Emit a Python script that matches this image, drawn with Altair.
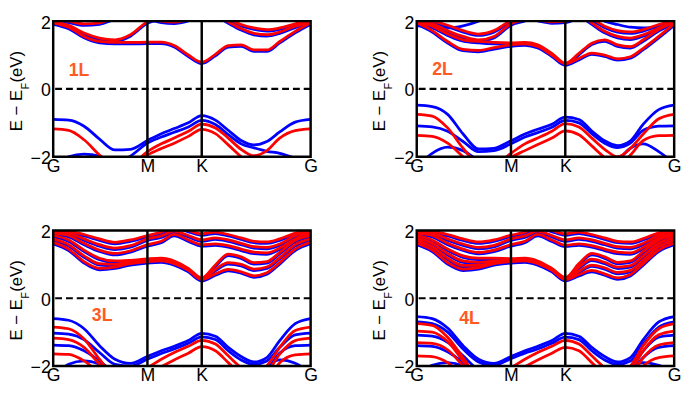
import json
import altair as alt
import pandas as pd

FONT = "Liberation Sans"

# path coordinate (fraction of G-M-K-G length)
K_GRID = [0.0, 0.06, 0.12, 0.18, 0.24, 0.30, 0.366, 0.42, 0.47, 0.525, 0.577,
          0.63, 0.68, 0.73, 0.78, 0.83, 0.88, 0.94, 1.0]
TICK_POS = [0.0, 0.366, 0.577, 1.0]
TICK_LABELS = ["G", "M", "K", "G"]
SYM_LINES = [0.366, 0.577]
Y_TICKS = [-2, 0, 2]
PANEL_NAMES = ["1L", "2L", "3L", "4L"]
LABEL_K = [0.10, 0.10, 0.19, 0.205]
LABEL_E = [0.52, 0.55, -0.52, -0.61]

# ---------------- 1L ----------------
L1_BLUE = [
    [-0.90, -0.92, -1.10, -1.48, -1.80, -1.78, -1.52, -1.32, -1.17, -1.00, -0.79, -0.92, -1.22, -1.52, -1.65, -1.55, -1.27, -0.98, -0.90],
    [-2.25, -2.00, -1.92, -1.98, -2.20, -1.98, -1.60, -1.42, -1.28, -1.12, -0.93, -1.05, -1.35, -1.62, -1.74, -1.84, -1.90, -2.05, -2.25],
]
L1_RED = [
    [-1.18, -1.22, -1.50, -1.95, -2.30, -2.25, -1.85, -1.62, -1.45, -1.25, -1.04, -1.15, -1.45, -1.78, -1.97, -1.82, -1.45, -1.23, -1.18],
    [-2.60, -2.60, -2.60, -2.60, -2.50, -2.30, -1.95, -1.76, -1.60, -1.40, -1.19, -1.32, -1.65, -2.00, -2.30, -2.60, -2.60, -2.60, -2.60],
]
L1_BOTH = [
    [1.95, 1.82, 1.55, 1.40, 1.37, 1.37, 1.38, 1.38, 1.28, 1.00, 0.79, 1.02, 1.28, 1.30, 1.15, 1.15, 1.40, 1.70, 1.95],
    [1.98, 1.88, 1.65, 1.50, 1.45, 1.60, 1.98, 2.10, 2.20, 2.30, 2.30, 2.20, 1.98, 1.78, 1.64, 1.60, 1.68, 1.85, 1.98],
    [2.05, 2.00, 1.92, 1.95, 2.10, 2.20, 2.10, 2.00, 1.97, 2.05, 2.20, 2.10, 2.05, 1.90, 1.80, 1.75, 1.80, 1.92, 2.02],
]

# ---------------- 2L ----------------
L2_BLUE = [
    [-0.48, -0.52, -0.75, -1.33, -1.77, -1.75, -1.53, -1.33, -1.19, -1.04, -0.83, -0.90, -1.24, -1.53, -1.67, -1.53, -1.04, -0.61, -0.48],
    [-1.09, -1.12, -1.25, -1.55, -1.85, -1.82, -1.62, -1.42, -1.29, -1.13, -0.93, -1.00, -1.32, -1.60, -1.73, -1.60, -1.22, -1.10, -1.09],
    [-2.30, -1.90, -1.72, -1.82, -2.10, -2.20, -2.05, -2.30, -2.40, -2.40, -2.40, -2.40, -2.40, -2.30, -2.10, -1.75, -1.62, -1.85, -2.20],
    [1.86, 1.85, 1.80, 1.86, 2.00, 2.20, 2.30, 2.30, 2.30, 2.30, 2.30, 2.30, 2.20, 2.00, 1.90, 1.82, 1.80, 1.82, 1.85],
]
L2_RED = [
    [-0.75, -0.80, -1.15, -1.75, -2.20, -2.25, -1.90, -1.62, -1.45, -1.25, -1.02, -1.12, -1.45, -1.78, -2.00, -1.75, -1.33, -0.88, -0.75],
    [-1.37, -1.40, -1.60, -2.00, -2.40, -2.40, -2.02, -1.82, -1.64, -1.45, -1.24, -1.35, -1.68, -2.02, -2.25, -1.95, -1.52, -1.38, -1.37],
]
L2_BOTH = [
    [1.95, 1.72, 1.40, 1.17, 1.14, 1.22, 1.30, 1.33, 1.25, 1.00, 0.74, 0.90, 1.06, 1.00, 0.89, 0.95, 1.20, 1.55, 1.92],
    [1.98, 1.85, 1.62, 1.45, 1.40, 1.37, 1.36, 1.37, 1.30, 1.05, 0.76, 1.05, 1.35, 1.45, 1.30, 1.25, 1.45, 1.75, 1.97],
    [2.02, 1.92, 1.72, 1.55, 1.45, 1.55, 1.92, 2.05, 2.20, 2.30, 2.30, 2.20, 1.95, 1.70, 1.55, 1.50, 1.60, 1.80, 1.98],
    [2.05, 2.00, 1.88, 1.72, 1.62, 1.72, 2.02, 2.15, 2.05, 1.98, 2.00, 2.10, 2.05, 1.85, 1.72, 1.68, 1.75, 1.90, 2.02],
]

# ---------------- 3L ----------------
L3_BLUE = [
    [-0.60, -0.65, -0.90, -1.40, -1.80, -1.92, -1.72, -1.55, -1.42, -1.25, -1.04, -1.12, -1.45, -1.72, -1.88, -1.75, -1.25, -0.75, -0.60],
    [-1.03, -1.06, -1.22, -1.60, -1.95, -2.00, -1.80, -1.63, -1.50, -1.33, -1.14, -1.22, -1.55, -1.82, -1.95, -1.85, -1.45, -1.08, -1.03],
    [-1.38, -1.40, -1.55, -1.85, -2.20, -2.30, -2.10, -2.30, -2.40, -2.40, -2.40, -2.40, -2.40, -2.40, -2.30, -2.10, -1.62, -1.40, -1.38],
    [-2.30, -1.95, -1.85, -1.95, -2.20, -2.30, -2.30, -2.40, -2.40, -2.40, -2.40, -2.40, -2.40, -2.40, -2.30, -2.00, -1.82, -1.92, -2.20],
]
L3_RED = [
    [-0.85, -0.90, -1.20, -1.80, -2.30, -2.30, -2.05, -1.80, -1.60, -1.42, -1.24, -1.35, -1.70, -2.05, -2.30, -2.00, -1.45, -0.95, -0.85],
    [-1.18, -1.22, -1.45, -1.95, -2.40, -2.40, -2.25, -2.02, -1.82, -1.62, -1.43, -1.55, -1.90, -2.25, -2.40, -2.20, -1.65, -1.25, -1.18],
    [-1.64, -1.66, -1.85, -2.20, -2.50, -2.50, -2.50, -2.50, -2.50, -2.50, -2.50, -2.50, -2.50, -2.50, -2.50, -2.40, -1.90, -1.67, -1.64],
]
L3_BOTH = [
    [1.65, 1.45, 1.08, 0.88, 0.92, 1.02, 1.08, 1.10, 1.02, 0.82, 0.55, 0.72, 0.85, 0.78, 0.66, 0.75, 1.05, 1.45, 1.65],
    [1.75, 1.58, 1.25, 1.02, 1.00, 1.08, 1.12, 1.14, 1.06, 0.85, 0.58, 0.85, 1.05, 1.00, 0.86, 0.92, 1.20, 1.58, 1.75],
    [1.85, 1.72, 1.42, 1.18, 1.10, 1.12, 1.16, 1.18, 1.10, 0.88, 0.60, 0.98, 1.30, 1.22, 1.05, 1.08, 1.35, 1.70, 1.85],
    [1.92, 1.85, 1.62, 1.42, 1.32, 1.40, 1.58, 1.68, 1.88, 1.72, 1.58, 1.60, 1.55, 1.45, 1.36, 1.34, 1.48, 1.75, 1.92],
    [1.98, 1.92, 1.75, 1.58, 1.48, 1.55, 1.75, 1.84, 1.98, 1.85, 1.72, 1.78, 1.72, 1.62, 1.52, 1.50, 1.60, 1.85, 1.98],
    [2.02, 1.98, 1.88, 1.75, 1.65, 1.72, 1.85, 1.95, 2.10, 2.00, 1.90, 1.95, 1.88, 1.78, 1.68, 1.66, 1.75, 1.92, 2.02],
]

# ---------------- 4L ----------------
L4_BLUE = [
    [-0.54, -0.60, -0.88, -1.40, -1.80, -1.92, -1.72, -1.55, -1.42, -1.25, -1.04, -1.12, -1.45, -1.72, -1.88, -1.75, -1.22, -0.70, -0.54],
    [-0.70, -0.75, -1.00, -1.50, -1.88, -1.98, -1.78, -1.62, -1.50, -1.33, -1.15, -1.22, -1.55, -1.82, -1.95, -1.85, -1.35, -0.85, -0.70],
    [-1.09, -1.12, -1.30, -1.70, -2.10, -2.20, -2.00, -2.30, -2.40, -2.40, -2.40, -2.40, -2.40, -2.40, -2.30, -2.10, -1.55, -1.15, -1.09],
    [-1.40, -1.42, -1.58, -1.90, -2.30, -2.40, -2.30, -2.40, -2.40, -2.40, -2.40, -2.40, -2.40, -2.40, -2.40, -2.20, -1.75, -1.45, -1.40],
    [-2.30, -1.98, -1.90, -2.00, -2.30, -2.40, -2.40, -2.40, -2.40, -2.40, -2.40, -2.40, -2.40, -2.40, -2.30, -2.05, -1.90, -1.98, -2.20],
]
L4_RED = [
    [-0.75, -0.80, -1.15, -1.75, -2.30, -2.30, -2.05, -1.80, -1.60, -1.42, -1.24, -1.35, -1.70, -2.05, -2.30, -2.00, -1.40, -0.90, -0.75],
    [-0.97, -1.00, -1.28, -1.85, -2.40, -2.40, -2.25, -2.02, -1.82, -1.62, -1.45, -1.55, -1.90, -2.25, -2.40, -2.15, -1.55, -1.08, -0.97],
    [-1.31, -1.33, -1.52, -2.00, -2.50, -2.50, -2.50, -2.50, -2.50, -2.50, -2.50, -2.50, -2.50, -2.50, -2.50, -2.30, -1.75, -1.38, -1.31],
    [-1.70, -1.72, -1.90, -2.30, -2.50, -2.50, -2.50, -2.50, -2.50, -2.50, -2.50, -2.50, -2.50, -2.50, -2.50, -2.50, -2.00, -1.75, -1.70],
]
L4_BOTH = [
    [1.62, 1.42, 1.05, 0.86, 0.90, 1.02, 1.08, 1.10, 1.02, 0.82, 0.55, 0.70, 0.82, 0.72, 0.60, 0.70, 1.02, 1.42, 1.62],
    [1.70, 1.52, 1.18, 0.97, 0.97, 1.06, 1.10, 1.12, 1.04, 0.84, 0.57, 0.80, 0.98, 0.90, 0.76, 0.82, 1.12, 1.52, 1.70],
    [1.78, 1.62, 1.32, 1.10, 1.06, 1.10, 1.13, 1.15, 1.07, 0.86, 0.59, 0.92, 1.15, 1.06, 0.92, 0.96, 1.25, 1.62, 1.78],
    [1.85, 1.72, 1.45, 1.25, 1.18, 1.18, 1.17, 1.18, 1.10, 0.88, 0.61, 1.02, 1.32, 1.22, 1.06, 1.10, 1.38, 1.72, 1.85],
    [1.92, 1.85, 1.62, 1.45, 1.35, 1.42, 1.58, 1.68, 1.88, 1.72, 1.57, 1.60, 1.55, 1.45, 1.36, 1.34, 1.50, 1.78, 1.92],
    [1.97, 1.92, 1.75, 1.60, 1.50, 1.56, 1.75, 1.84, 1.98, 1.85, 1.72, 1.78, 1.72, 1.62, 1.52, 1.50, 1.62, 1.86, 1.97],
    [2.02, 1.98, 1.88, 1.75, 1.66, 1.72, 1.86, 1.95, 2.10, 2.00, 1.90, 1.95, 1.88, 1.78, 1.68, 1.66, 1.76, 1.93, 2.02],
]

PANELS = [
    (L1_BLUE, L1_RED, L1_BOTH),
    (L2_BLUE, L2_RED, L2_BOTH),
    (L3_BLUE, L3_RED, L3_BOTH),
    (L4_BLUE, L4_RED, L4_BOTH),
]

W, H = 262, 138
BLUE = "#0000ff"
RED = "#ff0000"
ORANGE = "#ff5a1f"

label_expr = "{}[indexof({}, datum.value)]".format(json.dumps(TICK_LABELS), json.dumps(TICK_POS))

X_ENC = alt.X(
    "k:Q",
    scale=alt.Scale(domain=[0, 1], nice=False, zero=False),
    axis=alt.Axis(values=TICK_POS, labelExpr=label_expr, title=None, domain=False,
                  ticks=False, grid=False, labelFont=FONT, labelFontSize=18,
                  labelColor="black", labelPadding=1, labelFlush=False, labelOverlap=False),
)
Y_ENC = alt.Y(
    "E:Q",
    scale=alt.Scale(domain=[-2, 2], nice=False, zero=False),
    axis=alt.Axis(values=Y_TICKS, title=None, domain=False, ticks=False, grid=False,
                  labelFont=FONT, labelFontSize=18, labelColor="black",
                  labelPadding=3, labelOffset=2, labelFlush=False, labelOverlap=False),
)


def band_frame(bands, tag):
    rows = []
    for i, vals in enumerate(bands):
        for k, e in zip(K_GRID, vals):
            rows.append({"k": k, "E": e, "band": f"{tag}{i}"})
    return pd.DataFrame(rows)


def lines(df, color, offset=0.0):
    return alt.Chart(df).mark_line(
        clip=True, interpolate="monotone", strokeWidth=2.8, color=color, yOffset=offset
    ).encode(x=X_ENC, y=Y_ENC, detail="band:N")


def make_panel(idx):
    blue, red, both = PANELS[idx]
    df_blue = band_frame(blue, "b")
    df_red = band_frame(red, "r")
    df_both = band_frame(both, "c")

    zero = alt.Chart(pd.DataFrame({"E": [0]})).mark_rule(
        color="black", strokeDash=[7, 4], strokeWidth=2.2
    ).encode(y=Y_ENC)
    vlines = alt.Chart(pd.DataFrame({"k": SYM_LINES})).mark_rule(
        color="black", strokeWidth=2.5
    ).encode(x=X_ENC)
    frame = alt.Chart(pd.DataFrame({"a": [0]})).mark_rect(
        filled=False, stroke="black", strokeWidth=2.5
    ).encode(x=alt.value(0), x2=alt.value(W), y=alt.value(0), y2=alt.value(H))
    label = alt.Chart(pd.DataFrame({"k": [LABEL_K[idx]], "E": [LABEL_E[idx]], "t": [PANEL_NAMES[idx]]})).mark_text(
        font=FONT, fontSize=18, fontWeight="bold", color=ORANGE
    ).encode(x=X_ENC, y=Y_ENC, text="t:N")

    y0 = H / 2 + 43
    t1 = alt.Chart(pd.DataFrame({"t": ["E \u2212 E"]})).mark_text(
        angle=270, align="left", baseline="alphabetic", font=FONT, fontSize=17, color="black"
    ).encode(x=alt.value(-32), y=alt.value(y0), text="t:N")
    t2 = alt.Chart(pd.DataFrame({"t": ["F"]})).mark_text(
        angle=270, align="left", baseline="alphabetic", font=FONT, fontSize=11, color="black"
    ).encode(x=alt.value(-25), y=alt.value(y0 - 42.5), text="t:N")
    t3 = alt.Chart(pd.DataFrame({"t": [" (eV)"]})).mark_text(
        angle=270, align="left", baseline="alphabetic", font=FONT, fontSize=17, color="black"
    ).encode(x=alt.value(-32), y=alt.value(y0 - 49.5), text="t:N")

    return alt.layer(
        zero,
        lines(df_both, BLUE, 1.5),
        lines(df_blue, BLUE),
        lines(df_red, RED),
        lines(df_both, RED),
        vlines,
        frame,
        label,
        t1, t2, t3,
    ).properties(width=W, height=H)


panels = [make_panel(i) for i in range(4)]

chart = alt.concat(
    *panels, columns=2, spacing=alt.RowColnumber(row=49, column=54)
).properties(
    padding={"left": 0, "top": 3, "right": 2, "bottom": 0},
    background="white",
).configure_view(stroke=None)

chart.save("out.html", embed_options={"renderer": "svg", "actions": False})
